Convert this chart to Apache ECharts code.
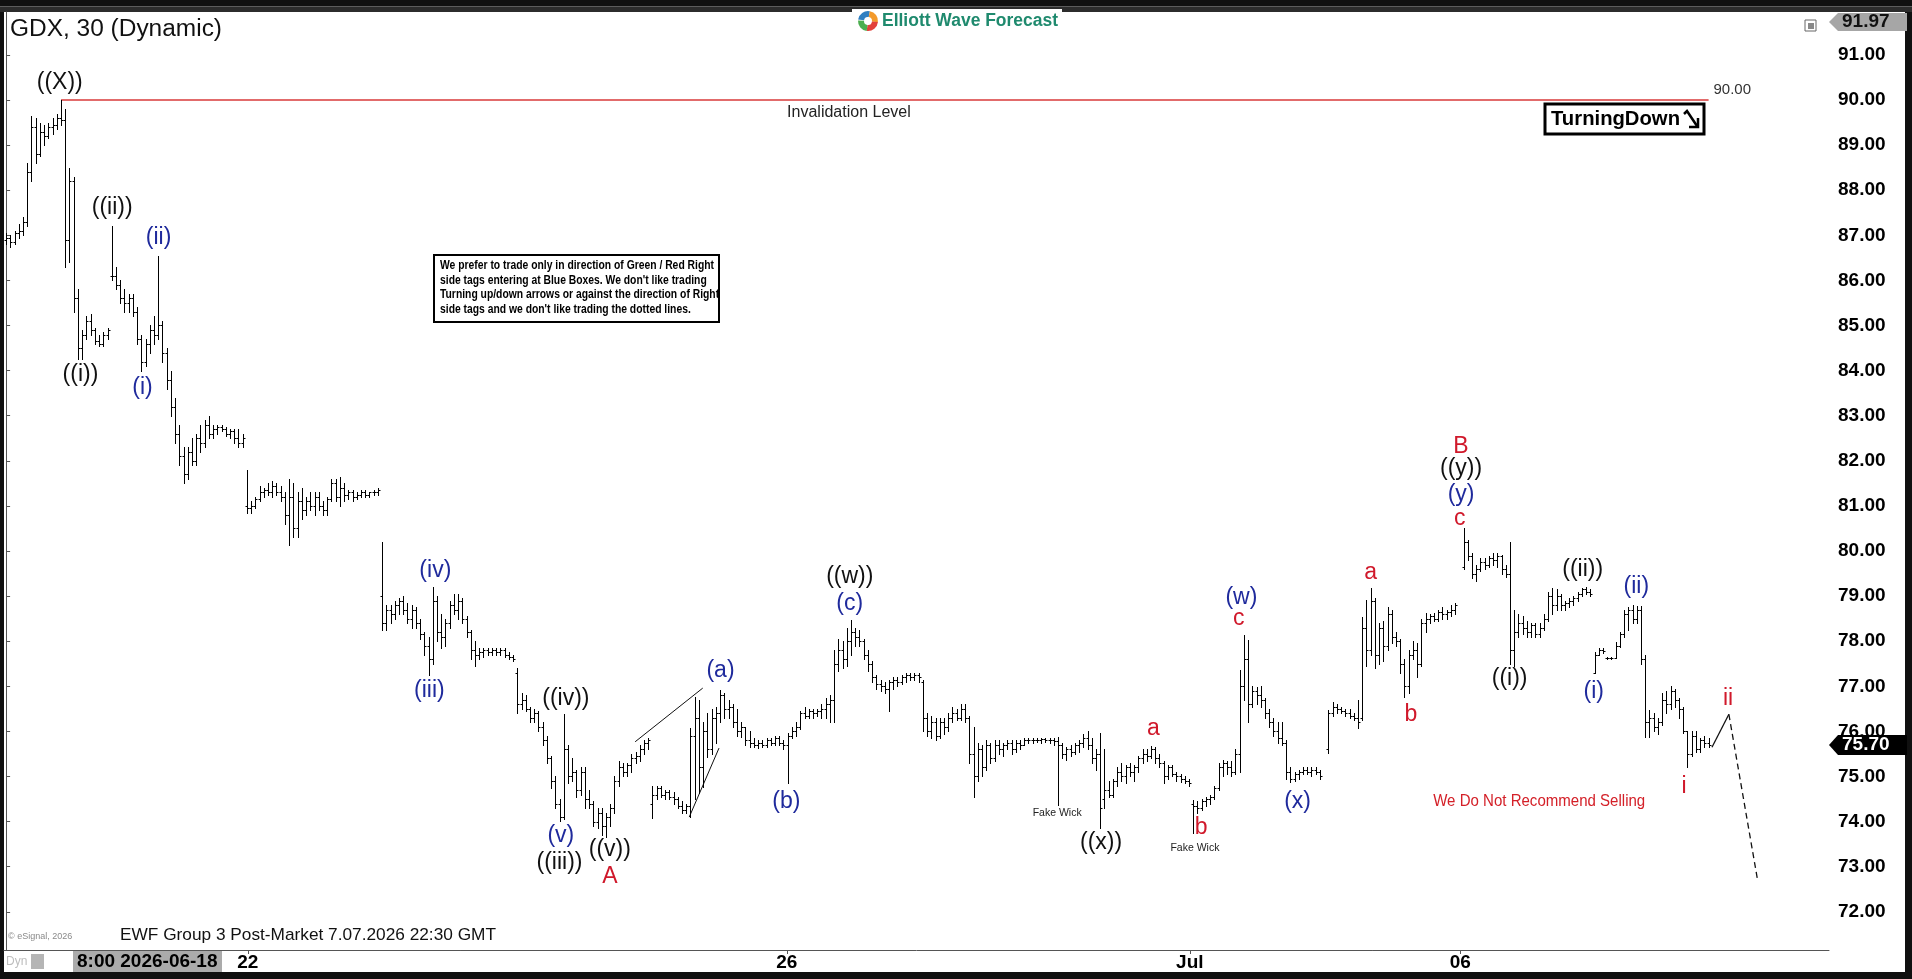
<!DOCTYPE html>
<html>
<head>
<meta charset="utf-8">
<title>GDX, 30 (Dynamic)</title>
<style>
  html, body { margin: 0; padding: 0; background: #111; }
  #chart { width: 1912px; height: 979px; }
</style>
</head>
<body>
<div id="chart"></div>
<script src="https://cdn.jsdelivr.net/npm/echarts@6/dist/echarts.min.js"></script>
<script>
// 30 min bars, one array per session: [open, high, low, close]
var jun17 = [
  [86.9,87.05,86.8,86.95],[86.95,87.0,86.75,86.85],[86.85,87.1,86.8,87.05],[87.05,87.25,86.95,87.1],[87.1,87.4,87.0,87.3],
  [87.3,88.6,87.2,88.4],[88.4,89.65,88.2,89.4],[89.4,89.6,88.6,88.8],[88.8,89.5,88.75,89.3],[89.3,89.45,89.0,89.2],
  [89.2,89.5,89.15,89.4],[89.4,89.6,89.25,89.45],[89.45,89.7,89.35,89.6],[89.6,90.0,89.45,89.55],[89.55,89.8,86.3,86.9],
  [86.9,88.5,86.4,88.2],[88.2,88.3,85.3,85.6],[85.6,85.8,84.25,84.5],[84.5,84.9,84.25,84.8],[84.8,85.2,84.7,85.1],
  [85.1,85.25,84.8,84.9],[84.9,84.95,84.6,84.65],[84.65,84.8,84.55,84.6],[84.6,84.85,84.55,84.8],[84.8,84.95,84.7,84.9]
];
var jun18 = [
  [86.1,87.2,86.0,86.1],[86.1,86.3,85.8,85.9],[85.9,86.0,85.5,85.6],[85.6,85.8,85.3,85.5],[85.5,85.7,85.3,85.6],
  [85.6,85.7,85.2,85.3],[85.3,85.4,84.6,84.7],[84.7,84.8,84.0,84.2],[84.2,84.7,84.1,84.6],[84.6,85.0,84.4,84.9],
  [84.9,85.2,84.6,84.8],[84.8,86.55,84.7,85.0],[85.0,85.1,84.2,84.4],[84.4,84.5,83.6,83.8],[83.8,84.0,83.0,83.2],
  [83.2,83.4,82.4,82.6],[82.6,82.8,81.9,82.1],[82.1,82.3,81.5,81.7],[81.7,82.3,81.6,82.2],[82.2,82.5,81.9,82.0],
  [82.0,82.6,81.9,82.5],[82.5,82.8,82.2,82.4],[82.4,82.9,82.3,82.8],[82.8,83.0,82.5,82.6],[82.6,82.8,82.5,82.7],
  [82.7,82.8,82.6,82.75],[82.75,82.8,82.65,82.7],[82.7,82.75,82.55,82.6],[82.6,82.7,82.5,82.65],[82.65,82.7,82.4,82.5],
  [82.5,82.7,82.3,82.4],[82.4,82.6,82.3,82.5]
];
var jun22 = [
  [81.0,81.8,80.85,80.95],[80.95,81.1,80.85,81.0],[81.0,81.2,80.95,81.15],[81.15,81.45,81.1,81.3],[81.3,81.4,81.2,81.35],
  [81.35,81.5,81.25,81.3],[81.3,81.55,81.2,81.45],[81.45,81.5,81.25,81.3],[81.3,81.45,81.1,81.2],[81.2,81.3,80.6,80.8],
  [80.8,81.6,80.13,81.2],[81.2,81.5,80.3,80.5],[80.5,81.3,80.3,81.1],[81.1,81.4,80.7,80.9],[80.9,81.2,80.8,81.1],
  [81.1,81.3,80.9,81.0],[81.0,81.3,80.8,81.2],[81.2,81.3,80.9,81.0],[81.0,81.1,80.8,80.9],[80.9,81.2,80.8,81.15],
  [81.15,81.6,81.1,81.5],[81.5,81.6,81.1,81.2],[81.2,81.65,81.0,81.4],[81.4,81.5,81.1,81.25],[81.25,81.35,81.15,81.3],
  [81.3,81.35,81.1,81.2],[81.2,81.3,81.15,81.25],[81.25,81.35,81.2,81.3],[81.3,81.35,81.2,81.25],[81.25,81.3,81.2,81.3],
  [81.3,81.35,81.25,81.3],[81.3,81.4,81.25,81.35]
];
var jun23 = [
  [79.0,80.2,78.25,78.4],[78.4,78.8,78.25,78.7],[78.7,78.8,78.4,78.6],[78.6,78.9,78.5,78.8],[78.8,78.95,78.6,78.9],
  [78.9,79.0,78.6,78.7],[78.7,78.85,78.4,78.5],[78.5,78.8,78.3,78.7],[78.7,78.75,78.3,78.4],[78.4,78.5,78.05,78.15],
  [78.15,78.2,77.7,77.9],[77.9,78.1,77.25,77.6],[77.6,79.2,77.5,78.9],[78.9,79.0,78.0,78.2],[78.2,78.6,77.85,78.1],
  [78.1,78.5,77.9,78.4],[78.4,78.9,78.3,78.8],[78.8,79.05,78.6,78.7],[78.7,79.05,78.5,78.9],[78.9,78.95,78.4,78.5],
  [78.5,78.55,78.1,78.2],[78.2,78.25,77.6,77.8],[77.8,78.0,77.45,77.7],[77.7,77.85,77.6,77.75],[77.75,77.85,77.65,77.8],
  [77.8,77.85,77.7,77.75],[77.75,77.85,77.7,77.8],[77.8,77.85,77.7,77.75],[77.75,77.85,77.7,77.8],[77.8,77.85,77.65,77.7],
  [77.7,77.75,77.6,77.65],[77.65,77.7,77.55,77.6]
];
var jun24 = [
  [77.3,77.4,76.4,76.6],[76.6,76.85,76.5,76.7],[76.7,76.8,76.45,76.5],[76.5,76.55,76.2,76.3],[76.3,76.5,76.2,76.4],
  [76.4,76.45,76.0,76.1],[76.1,76.2,75.7,75.8],[75.8,75.9,75.3,75.4],[75.4,75.45,74.75,74.9],[74.9,75.0,74.3,74.4],
  [74.4,74.5,74.02,74.1],[74.1,76.38,74.05,75.6],[75.6,75.7,74.85,75.0],[75.0,75.4,74.9,75.1],[75.1,75.15,74.55,74.7],
  [74.7,75.2,74.6,75.1],[75.1,75.2,74.3,74.5],[74.5,74.7,74.3,74.4],[74.4,74.45,73.9,74.0],[74.0,74.3,73.85,74.2],
  [74.2,74.3,73.7,73.9],[73.9,74.2,73.66,74.1],[74.1,74.4,73.9,74.3],[74.3,75.0,74.2,74.9],[74.9,75.35,74.8,75.2],
  [75.2,75.3,75.0,75.1],[75.1,75.3,75.0,75.25],[75.25,75.5,75.1,75.4],[75.4,75.55,75.3,75.45],[75.45,75.7,75.35,75.6],
  [75.6,75.8,75.5,75.75],[75.75,75.85,75.6,75.8]
];
var jun25 = [
  [74.4,74.8,74.08,74.6],[74.6,74.8,74.5,74.75],[74.75,74.8,74.55,74.6],[74.6,74.7,74.5,74.65],[74.65,74.7,74.5,74.55],
  [74.55,74.65,74.4,74.5],[74.5,74.55,74.3,74.35],[74.35,74.45,74.2,74.25],[74.25,74.4,74.2,74.35],[74.35,76.07,74.1,75.9],
  [75.9,76.77,74.5,76.3],[76.3,76.7,74.63,75.2],[75.2,76.2,74.77,76.0],[76.0,76.4,75.43,75.6],[75.6,76.5,75.5,76.3],
  [76.3,76.55,75.75,76.4],[76.4,76.92,76.2,76.8],[76.8,76.85,76.3,76.5],[76.5,76.7,76.3,76.55],[76.55,76.6,76.1,76.2],
  [76.2,76.5,75.9,76.0],[76.0,76.2,75.88,76.1],[76.1,76.1,75.7,75.8],[75.8,76.0,75.65,75.75],[75.75,75.85,75.65,75.7],
  [75.7,75.8,75.63,75.75],[75.75,75.8,75.65,75.7],[75.7,75.85,75.65,75.8],[75.8,75.85,75.7,75.75],[75.75,75.9,75.7,75.85],
  [75.85,75.9,75.7,75.75],[75.75,75.8,75.6,75.7]
];
var jun26 = [
  [75.7,75.96,74.86,75.9],[75.9,76.1,75.85,76.0],[76.0,76.2,75.9,76.1],[76.1,76.45,76.05,76.4],[76.4,76.55,76.3,76.35],
  [76.35,76.5,76.3,76.45],[76.45,76.5,76.3,76.4],[76.4,76.5,76.35,76.45],[76.45,76.6,76.3,76.5],[76.5,76.75,76.3,76.6],
  [76.6,76.8,76.2,76.7],[76.7,77.8,76.2,77.5],[77.5,78.05,77.35,77.8],[77.8,78.0,77.4,77.6],[77.6,78.3,77.45,78.0],
  [78.0,78.47,77.7,78.2],[78.2,78.3,77.9,78.1],[78.1,78.25,77.9,78.0],[78.0,78.05,77.6,77.7],[77.7,77.8,77.35,77.5],
  [77.5,77.55,77.1,77.2],[77.2,77.25,76.95,77.05],[77.05,77.15,76.9,77.0],[77.0,77.1,76.85,76.95],[76.95,77.15,76.45,77.1],
  [77.1,77.2,76.95,77.15],[77.15,77.2,77.0,77.1],[77.1,77.25,77.05,77.2],[77.2,77.3,77.1,77.25],[77.25,77.3,77.15,77.2],
  [77.2,77.3,77.15,77.25],[77.25,77.3,77.1,77.2]
];
var jun29 = [
  [77.1,77.15,76.0,76.3],[76.3,76.4,75.9,76.0],[76.0,76.35,75.85,76.2],[76.2,76.3,75.8,75.9],[75.9,76.3,75.85,76.2],
  [76.2,76.3,75.95,76.1],[76.1,76.4,76.0,76.3],[76.3,76.55,76.2,76.4],[76.4,76.5,76.25,76.3],[76.3,76.6,76.25,76.5],
  [76.5,76.6,76.2,76.3],[76.3,76.35,75.3,75.5],[75.5,76.1,74.55,75.0],[75.0,75.75,74.9,75.6],[75.6,75.7,75.0,75.2],
  [75.2,75.8,75.15,75.7],[75.7,75.75,75.3,75.4],[75.4,75.8,75.35,75.7],[75.7,75.8,75.5,75.6],[75.6,75.75,75.45,75.7],
  [75.7,75.8,75.6,75.75],[75.75,75.8,75.5,75.6],[75.6,75.8,75.55,75.75],[75.75,75.8,75.6,75.7],[75.7,75.85,75.7,75.8],
  [75.8,75.85,75.75,75.8],[75.8,75.85,75.75,75.82],[75.82,75.86,75.76,75.8],[75.8,75.85,75.75,75.83],[75.83,75.86,75.77,75.8],
  [75.8,75.85,75.75,75.82],[75.82,75.86,75.7,75.78]
];
var jun30 = [
  [75.78,75.88,74.37,75.7],[75.7,75.75,75.4,75.5],[75.5,75.65,75.37,75.6],[75.6,75.7,75.45,75.55],[75.55,75.75,75.5,75.7],
  [75.7,75.8,75.55,75.75],[75.75,75.95,75.65,75.85],[75.85,76.0,75.6,75.7],[75.7,75.85,75.3,75.4],[75.4,75.6,75.15,75.5],
  [75.5,75.96,73.85,74.3],[74.5,75.6,74.3,74.7],[74.7,74.9,74.55,74.6],[74.6,74.95,74.55,74.9],[74.9,75.2,74.8,75.1],
  [75.1,75.3,74.9,75.0],[75.0,75.25,74.85,75.2],[75.2,75.3,75.0,75.1],[75.1,75.25,74.9,75.2],[75.2,75.45,75.1,75.4],
  [75.4,75.6,75.3,75.5],[75.5,75.6,75.35,75.45],[75.45,75.67,75.4,75.6],[75.6,75.65,75.3,75.4],[75.4,75.5,75.2,75.3],
  [75.3,75.35,74.85,75.0],[75.0,75.25,74.95,75.2],[75.2,75.25,75.0,75.05],[75.05,75.1,74.9,75.0],[75.0,75.05,74.88,74.95],
  [74.95,75.0,74.85,74.9],[74.9,74.95,74.8,74.85]
];
var jul01 = [
  [74.4,74.48,73.75,74.35],[74.35,74.45,74.2,74.3],[74.3,74.5,74.25,74.45],[74.45,74.55,74.35,74.5],[74.5,74.6,74.4,74.55],
  [74.55,74.8,74.5,74.75],[74.75,75.3,74.7,75.2],[75.2,75.37,75.0,75.3],[75.3,75.35,75.05,75.2],[75.2,75.35,75.0,75.1],
  [75.1,75.6,75.05,75.5],[75.5,77.36,75.1,77.0],[77.0,78.14,76.7,77.6],[77.6,78.03,76.2,76.6],[76.6,77.0,76.55,76.9],
  [76.9,76.98,76.6,76.8],[76.8,77.0,76.55,76.7],[76.7,76.75,76.3,76.4],[76.4,76.5,76.1,76.2],[76.2,76.3,75.9,76.0],
  [76.0,76.2,75.75,75.85],[75.85,76.2,75.7,75.75],[75.75,75.8,74.95,75.1],[75.1,75.2,74.88,74.95],[74.95,75.1,74.9,75.05],
  [75.05,75.15,74.95,75.1],[75.1,75.2,75.05,75.15],[75.15,75.2,75.05,75.1],[75.1,75.2,75.0,75.15],[75.15,75.2,75.05,75.1],
  [75.1,75.15,74.95,75.0]
];
var jul02 = [
  [75.6,76.47,75.52,76.4],[76.4,76.65,76.35,76.55],[76.55,76.6,76.4,76.5],[76.5,76.55,76.4,76.45],[76.45,76.5,76.35,76.4],
  [76.4,76.5,76.3,76.35],[76.35,76.4,76.25,76.3],[76.3,76.7,76.07,76.2],[76.3,78.54,76.25,78.3],[78.3,78.91,77.45,77.8],
  [77.8,79.18,77.7,78.9],[78.9,78.95,77.4,77.7],[77.7,78.4,77.5,78.3],[78.3,78.45,77.55,77.9],[77.9,78.76,77.8,78.6],
  [78.6,78.7,77.95,78.1],[78.1,78.2,77.9,78.0],[78.0,78.05,77.3,77.5],[77.5,77.6,76.77,77.0],[77.0,77.8,76.85,77.7],
  [77.7,78.0,77.6,77.8],[77.8,77.96,77.2,77.5],[77.5,78.5,77.45,78.4],[78.4,78.63,78.2,78.5],[78.5,78.6,78.4,78.55],
  [78.55,78.63,78.45,78.5],[78.5,78.7,78.45,78.65],[78.65,78.75,78.5,78.6],[78.6,78.7,78.5,78.65],[78.65,78.8,78.55,78.7],
  [78.7,78.85,78.6,78.8]
];
var jul06 = [
  [79.65,80.5,79.6,80.2],[80.2,80.25,79.8,79.9],[79.9,79.95,79.4,79.5],[79.5,79.7,79.33,79.6],[79.6,79.85,79.55,79.75],
  [79.75,79.85,79.6,79.7],[79.7,79.9,79.65,79.85],[79.85,79.95,79.7,79.8],[79.8,79.95,79.65,79.9],[79.9,79.92,79.5,79.6],
  [79.6,79.7,79.42,79.5],[79.5,80.2,77.5,77.8],[77.8,78.7,77.45,78.2],[78.2,78.6,78.1,78.4],[78.4,78.55,78.15,78.3],
  [78.3,78.45,78.1,78.2],[78.2,78.4,78.1,78.35],[78.35,78.4,78.1,78.15],[78.15,78.4,78.1,78.3],[78.3,78.6,78.25,78.5],
  [78.5,79.1,78.45,79.0],[79.0,79.17,78.6,78.8],[78.8,79.15,78.7,79.0],[79.0,79.05,78.7,78.8],[78.8,78.9,78.7,78.85],
  [78.85,78.95,78.75,78.9],[78.9,79.0,78.8,78.95],[78.95,79.1,78.9,79.05],[79.05,79.18,79.0,79.15],[79.15,79.2,79.05,79.1],
  [79.1,79.15,79.0,79.05]
];
var jul07 = [
  [77.3,77.76,77.3,77.7],[77.7,77.85,77.7,77.8],[77.8,77.85,77.74,77.78],[77.62,77.65,77.6,77.62],[77.62,77.66,77.6,77.63],
  [77.63,77.98,77.62,77.9],[77.9,78.2,77.87,78.15],[78.15,78.69,78.1,78.6],[78.6,78.75,78.25,78.7],[78.7,78.8,78.4,78.5],
  [78.5,78.78,78.4,78.7],[78.7,78.78,77.5,77.6],[77.6,77.7,75.88,76.2],[76.2,76.47,75.88,76.3],[76.3,76.4,76.0,76.1],
  [76.1,76.3,75.95,76.2],[76.2,76.85,76.15,76.7],[76.7,76.9,76.4,76.6],[76.6,77.0,76.5,76.9],[76.9,76.95,76.55,76.7],
  [76.7,76.75,76.3,76.5],[76.5,76.55,75.96,76.0],[76.0,76.0,75.2,75.5],[75.5,76.0,75.45,75.9],[75.9,76.0,75.55,75.6],
  [75.6,75.85,75.55,75.8],[75.8,75.9,75.65,75.75],[75.75,75.85,75.65,75.7]
];

var sessions = [jun17, jun18, jun22, jun23, jun24, jun25, jun26, jun29, jun30, jul01, jul02, jul06, jul07];
var sessionStart = [0, 25, 57, 89, 121, 153, 185, 217, 249, 281, 313, 345, 376];   // bar index of first bar
var slotCount = 432;

var dateTicks = [57.2, 184.8, 280.2, 344.2];
var dateLabels = ['22', '26', 'Jul', '06'];
var priceTicks = [72, 73, 74, 75, 76, 77, 78, 79, 80, 81, 82, 83, 84, 85, 86, 87, 88, 89, 90, 91];
var priceMin = 71.153, priceMax = 91.951;
var lastPrice = 75.70;
var topPrice = 91.97;

var invalidation = [[13, 90.0], [403, 90.0]];
var wedgeUpper = [[148.9, 75.77], [164.9, 76.96]];
var wedgeLower = [[161.7, 74.1], [168.75, 75.63]];
var pathSolid = [[403.8, 75.65], [407.8, 76.38]];
var pathDashed = [[407.8, 76.38], [414.6, 72.7]];

// [text, bar index, price, kind]
var waveLabels = [
  ['((X))', 12.7, 90.38, 'k'], ['((ii))', 25.1, 87.62, 'k'], ['(ii)', 36.1, 86.94, 'b'],
  ['((i))', 17.6, 83.92, 'k'], ['(i)', 32.3, 83.62, 'b'],
  ['(iv)', 101.6, 79.56, 'b'], ['(iii)', 100.2, 76.91, 'b'], ['((iv))', 132.5, 76.72, 'k'],
  ['(v)', 131.3, 73.69, 'b'], ['((iii))', 131.0, 73.10, 'k'], ['((v))', 142.9, 73.37, 'k'], ['A', 142.9, 72.77, 'r'],
  ['(a)', 169.1, 77.34, 'b'], ['(b)', 184.7, 74.45, 'b'], ['((w))', 199.7, 79.43, 'k'], ['(c)', 199.7, 78.83, 'b'],
  ['Fake Wick', 248.8, 74.18, 's'], ['((x))', 259.2, 73.53, 'k'], ['a', 271.6, 76.05, 'r'],
  ['b', 282.9, 73.86, 'r'], ['Fake Wick', 281.4, 73.42, 's'], ['(w)', 292.4, 78.97, 'b'], ['c', 291.8, 78.51, 'r'],
  ['(x)', 305.7, 74.45, 'b'], ['a', 323.0, 79.51, 'r'], ['b', 332.5, 76.37, 'r'],
  ['B', 344.4, 82.32, 'r'], ['((y))', 344.4, 81.83, 'k'], ['(y)', 344.4, 81.24, 'b'], ['c', 344.1, 80.72, 'r'],
  ['((i))', 355.9, 77.16, 'k'], ['((ii))', 373.2, 79.59, 'k'], ['(ii)', 385.9, 79.21, 'b'], ['(i)', 375.8, 76.88, 'b'],
  ['i', 397.2, 74.78, 'r'], ['ii', 407.6, 76.72, 'r'],
  ['Invalidation Level', 199.5, 89.71, 'note'], ['90.00', 408.6, 90.22, 'level'],
  ['We Do Not Recommend Selling', 362.9, 74.46, 'warn']
];

var FONT = '"Liberation Sans", Arial, sans-serif';
var kinds = {
  k: { color: '#111', font: '23px ' + FONT },
  b: { color: '#1f2a9c', font: '23px ' + FONT },
  r: { color: '#d0192b', font: '23px ' + FONT },
  s: { color: '#222', font: '10.5px ' + FONT },
  note: { color: '#222', font: '16px ' + FONT },
  level: { color: '#333', font: '15px ' + FONT },
  warn: { color: '#d42028', font: '17px ' + FONT, width: 212 }
};

var measure = document.createElement('canvas').getContext('2d');
function fitX(text, font, width) {
  measure.font = font;
  return width / measure.measureText(text).width;
}

// bars with their index
var bars = [];
sessions.forEach(function (s, d) {
  s.forEach(function (b, k) {
    bars.push([sessionStart[d] + k, b[0], b[1], b[2], b[3]]);
  });
});

function ohlcItem(params, api) {
  var i = api.value(0);
  var pO = api.coord([i, api.value(1)]);
  var pH = api.coord([i, api.value(2)]);
  var pL = api.coord([i, api.value(3)]);
  var pC = api.coord([i, api.value(4)]);
  var x = Math.round(pO[0]) + 0.5;
  var yo = Math.round(pO[1]) + 0.5;
  var yc = Math.round(pC[1]) + 0.5;
  var st = { stroke: '#000', lineWidth: 1 };
  return {
    type: 'group',
    children: [
      { type: 'line', shape: { x1: x, y1: Math.round(pH[1]), x2: x, y2: Math.round(pL[1]) + 1 }, style: st },
      { type: 'line', shape: { x1: x - 2, y1: yo, x2: x, y2: yo }, style: st },
      { type: 'line', shape: { x1: x, y1: yc, x2: x + 2, y2: yc }, style: st }
    ]
  };
}

function labelItem(params, api) {
  var w = waveLabels[params.dataIndex];
  var k = kinds[w[3]];
  var p = api.coord([w[1], w[2]]);
  var sx = k.width ? fitX(w[0], k.font, k.width) : 1;
  return {
    type: 'text', x: p[0], y: p[1], scaleX: sx,
    style: { text: w[0], fill: k.color, font: k.font, textAlign: 'center', textVerticalAlign: 'middle' }
  };
}

function lineSeries(data, color, width, type) {
  return {
    type: 'line', data: data, showSymbol: false, silent: true, z: 3,
    lineStyle: { color: color, width: width, type: type || 'solid' }
  };
}

var titleFont = '23px ' + FONT;
var logoFont = 'bold 18px ' + FONT;
var boxFont = 'bold 12px ' + FONT;
var turnFont = 'bold 21px ' + FONT;
var footFont = '17px ' + FONT;
var disclaimer = [
  'We prefer to trade only in direction of Green / Red Right',
  'side tags entering at Blue Boxes. We don\'t like trading',
  'Turning up/down arrows or against the direction of Right',
  'side tags and we don\'t like trading the dotted lines.'
];
var boxScale = fitX(disclaimer[0], boxFont, 274);

var graphics = [
  { type: 'rect', z: -10, silent: true, shape: { x: 4, y: 12, width: 1901, height: 960 }, style: { fill: '#fff' } },
  { type: 'rect', z: -10, silent: true, shape: { x: 0, y: 6, width: 1912, height: 1 }, style: { fill: '#5c5c5c' } },
  { type: 'rect', z: -10, silent: true, shape: { x: 0, y: 7, width: 1912, height: 5 }, style: { fill: '#2c2c2c' } },
  { type: 'text', x: 10, y: 30, scaleX: fitX('GDX, 30 (Dynamic)', titleFont, 212),
    style: { text: 'GDX, 30 (Dynamic)', font: titleFont, fill: '#111', textVerticalAlign: 'middle' } },
  // logo
  { type: 'rect', shape: { x: 852, y: 9, width: 210, height: 24 }, style: { fill: '#fff' } },
  { type: 'sector', shape: { cx: 868, cy: 21, r0: 4, r: 10, startAngle: 3.3, endAngle: 4.9 }, style: { fill: '#2f7fc1' } },
  { type: 'sector', shape: { cx: 868, cy: 21, r0: 4, r: 10, startAngle: 4.9, endAngle: 6.4 }, style: { fill: '#f39a2b' } },
  { type: 'sector', shape: { cx: 868, cy: 21, r0: 4, r: 10, startAngle: 0.1, endAngle: 1.7 }, style: { fill: '#e2413b' } },
  { type: 'sector', shape: { cx: 868, cy: 21, r0: 4, r: 10, startAngle: 1.7, endAngle: 3.2 }, style: { fill: '#4bae4f' } },
  { type: 'text', x: 882, y: 21, scaleX: fitX('Elliott Wave Forecast', logoFont, 176),
    style: { text: 'Elliott Wave Forecast', font: logoFont, fill: '#1f8a6e', textVerticalAlign: 'middle' } },
  // small window icon
  { type: 'rect', shape: { x: 1805, y: 20, width: 11, height: 11 }, style: { fill: '#fff', stroke: '#666', lineWidth: 1 } },
  { type: 'rect', shape: { x: 1808, y: 23, width: 6, height: 6 }, style: { fill: '#888' } },
  // turning down tag
  { type: 'rect', shape: { x: 1545, y: 104, width: 159, height: 30 }, style: { fill: '#fff', stroke: '#000', lineWidth: 3 } },
  { type: 'text', x: 1551, y: 119, scaleX: fitX('TurningDown', turnFont, 129),
    style: { text: 'TurningDown', font: turnFont, fill: '#000', textVerticalAlign: 'middle' } },
  { type: 'polyline', shape: { points: [[1684, 114], [1687, 111], [1697, 126]] }, style: { stroke: '#000', lineWidth: 2.5, fill: null } },
  { type: 'polyline', shape: { points: [[1689, 127], [1698, 127], [1698, 118]] }, style: { stroke: '#000', lineWidth: 2.5, fill: null } },
  // disclaimer box
  { type: 'rect', shape: { x: 434, y: 255, width: 285, height: 67 }, style: { fill: '#fff', stroke: '#000', lineWidth: 2 } },
  // footer
  { type: 'text', x: 8, y: 937, style: { text: '\u00a9 eSignal, 2026', font: '9px ' + FONT, fill: '#8a8a8a', textVerticalAlign: 'middle' } },
  { type: 'text', x: 120, y: 935, scaleX: fitX('EWF Group 3 Post-Market 7.07.2026 22:30 GMT', footFont, 376),
    style: { text: 'EWF Group 3 Post-Market 7.07.2026 22:30 GMT', font: footFont, fill: '#111', textVerticalAlign: 'middle' } },
  { type: 'text', x: 6, y: 962, style: { text: 'Dyn', font: '12px ' + FONT, fill: '#bdbdbd', textVerticalAlign: 'middle' } },
  { type: 'rect', shape: { x: 31, y: 954, width: 13, height: 15 }, style: { fill: '#b5b5b5' } },
  { type: 'rect', shape: { x: 73, y: 951, width: 149, height: 21 }, style: { fill: '#ababab' } },
  { type: 'text', x: 77, y: 962, style: { text: '8:00 2026-06-18', font: 'bold 19px ' + FONT, fill: '#000', textVerticalAlign: 'middle' } },
  // max price flag
  { type: 'polygon', shape: { points: [[1829, 22], [1838, 13], [1907, 13], [1907, 31], [1838, 31]] }, style: { fill: '#a6a6a6' } },
  { type: 'text', x: 1842, y: 22, style: { text: topPrice.toFixed(2), font: 'bold 19px ' + FONT, fill: '#111', textVerticalAlign: 'middle' } }
];
disclaimer.forEach(function (t, n) {
  graphics.push({ type: 'text', x: 440, y: 266 + n * 14.5, scaleX: boxScale,
    style: { text: t, font: boxFont, fill: '#000', textVerticalAlign: 'middle' } });
});

var option = {
  backgroundColor: '#101010',
  animation: false,
  grid: { left: 4, right: 83, top: 12, bottom: 29 },
  xAxis: {
    type: 'value', min: -0.5, max: slotCount - 0.5,
    axisLine: { show: true, lineStyle: { color: '#555', width: 1 } },
    axisTick: { show: true, customValues: dateTicks, length: 4, lineStyle: { color: '#555' } },
    axisLabel: {
      customValues: dateTicks, margin: 3, color: '#000', fontWeight: 'bold', fontSize: 19, fontFamily: FONT,
      formatter: function (v) {
        var best = 0;
        dateTicks.forEach(function (t, n) { if (Math.abs(t - v) < Math.abs(dateTicks[best] - v)) best = n; });
        return dateLabels[best];
      }
    },
    splitLine: { show: false }
  },
  yAxis: {
    type: 'value', position: 'right', min: priceMin, max: priceMax,
    axisLine: { show: true, lineStyle: { color: '#555', width: 1 } },
    axisTick: { show: true, customValues: priceTicks, length: 4, lineStyle: { color: '#555' } },
    axisLabel: {
      customValues: priceTicks, margin: 9, color: '#000', fontWeight: 'bold', fontSize: 19, fontFamily: FONT,
      formatter: function (v) { return v.toFixed(2); }
    },
    splitLine: { show: false }
  },
  series: [
    lineSeries(invalidation, '#d83a3a', 1.3),
    lineSeries(wedgeUpper, '#111', 1),
    lineSeries(wedgeLower, '#111', 1),
    lineSeries(pathSolid, '#111', 1.3),
    lineSeries(pathDashed, '#111', 1.3, [6, 4]),
    { type: 'custom', data: bars, encode: { x: 0, y: [1, 2, 3, 4] }, renderItem: ohlcItem, z: 4, silent: true },
    { type: 'custom', data: waveLabels.map(function (w) { return [w[1], w[2]]; }), encode: { x: 0, y: 1 },
      renderItem: labelItem, z: 5, silent: true }
  ],
  graphic: { elements: graphics }
};

var chart = echarts.init(document.getElementById('chart'));
chart.setOption(option);

// last price flag on the axis
var yLast = chart.convertToPixel({ yAxisIndex: 0 }, lastPrice);
graphics.push(
  { type: 'polygon', shape: { points: [[1829, yLast], [1838, yLast - 10], [1907, yLast - 10], [1907, yLast + 10], [1838, yLast + 10]] },
    style: { fill: '#000' } },
  { type: 'text', x: 1842, y: yLast, style: { text: lastPrice.toFixed(2), font: 'bold 19px ' + FONT, fill: '#fff', textVerticalAlign: 'middle' } }
);
chart.setOption({ graphic: { elements: graphics } }, { replaceMerge: ['graphic'] });
</script>
</body>
</html>
